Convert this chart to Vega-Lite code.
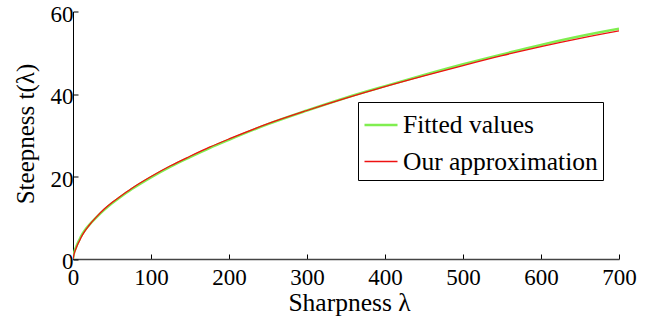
{
  "$schema": "https://vega.github.io/schema/vega-lite/v6.json",
  "autosize": {"type": "none"},
  "width": 546,
  "height": 247.5,
  "padding": {"left": 73, "top": 11.5, "right": 46, "bottom": 64},
  "background": "white",
  "config": {
    "view": {"stroke": null},
    "font": "Liberation Serif",
    "axis": {"grid": false, "labelFont": "Liberation Serif", "titleFont": "Liberation Serif", "labelFontSize": 23, "titleFontSize": 25, "labelColor": "black", "titleColor": "black", "titleFontWeight": "normal", "tickColor": "black", "domainColor": "#444", "domainWidth": 1.6, "tickSize": -5, "tickWidth": 1}
  },
  "data": {"values": [
    {"lambda": 0, "t": 0, "series": "Fitted values"},
    {"lambda": 1, "t": 1.2, "series": "Fitted values"},
    {"lambda": 2, "t": 1.9, "series": "Fitted values"},
    {"lambda": 4, "t": 2.9, "series": "Fitted values"},
    {"lambda": 6, "t": 3.8, "series": "Fitted values"},
    {"lambda": 8, "t": 4.6, "series": "Fitted values"},
    {"lambda": 10, "t": 5.4, "series": "Fitted values"},
    {"lambda": 15, "t": 6.9, "series": "Fitted values"},
    {"lambda": 20, "t": 8.1, "series": "Fitted values"},
    {"lambda": 30, "t": 10.1, "series": "Fitted values"},
    {"lambda": 40, "t": 11.9, "series": "Fitted values"},
    {"lambda": 50, "t": 13.5, "series": "Fitted values"},
    {"lambda": 60, "t": 14.9, "series": "Fitted values"},
    {"lambda": 75, "t": 16.9, "series": "Fitted values"},
    {"lambda": 100, "t": 19.8, "series": "Fitted values"},
    {"lambda": 125, "t": 22.4, "series": "Fitted values"},
    {"lambda": 150, "t": 24.7, "series": "Fitted values"},
    {"lambda": 175, "t": 26.9, "series": "Fitted values"},
    {"lambda": 200, "t": 28.9, "series": "Fitted values"},
    {"lambda": 250, "t": 32.7, "series": "Fitted values"},
    {"lambda": 300, "t": 36.0, "series": "Fitted values"},
    {"lambda": 350, "t": 39.1, "series": "Fitted values"},
    {"lambda": 400, "t": 41.9, "series": "Fitted values"},
    {"lambda": 450, "t": 44.6, "series": "Fitted values"},
    {"lambda": 500, "t": 47.2, "series": "Fitted values"},
    {"lambda": 550, "t": 49.6, "series": "Fitted values"},
    {"lambda": 600, "t": 51.9, "series": "Fitted values"},
    {"lambda": 650, "t": 54.0, "series": "Fitted values"},
    {"lambda": 700, "t": 55.8, "series": "Fitted values"},
    {"lambda": 0, "t": 0, "series": "Our approximation"},
    {"lambda": 1, "t": 0.9, "series": "Our approximation"},
    {"lambda": 2, "t": 1.6, "series": "Our approximation"},
    {"lambda": 4, "t": 2.6, "series": "Our approximation"},
    {"lambda": 6, "t": 3.5, "series": "Our approximation"},
    {"lambda": 8, "t": 4.3, "series": "Our approximation"},
    {"lambda": 10, "t": 5.1, "series": "Our approximation"},
    {"lambda": 15, "t": 6.7, "series": "Our approximation"},
    {"lambda": 20, "t": 8.0, "series": "Our approximation"},
    {"lambda": 30, "t": 10.2, "series": "Our approximation"},
    {"lambda": 40, "t": 12.1, "series": "Our approximation"},
    {"lambda": 50, "t": 13.7, "series": "Our approximation"},
    {"lambda": 60, "t": 15.1, "series": "Our approximation"},
    {"lambda": 75, "t": 17.1, "series": "Our approximation"},
    {"lambda": 100, "t": 20.0, "series": "Our approximation"},
    {"lambda": 125, "t": 22.6, "series": "Our approximation"},
    {"lambda": 150, "t": 24.9, "series": "Our approximation"},
    {"lambda": 175, "t": 27.1, "series": "Our approximation"},
    {"lambda": 200, "t": 29.1, "series": "Our approximation"},
    {"lambda": 250, "t": 32.8, "series": "Our approximation"},
    {"lambda": 300, "t": 36.0, "series": "Our approximation"},
    {"lambda": 350, "t": 39.0, "series": "Our approximation"},
    {"lambda": 400, "t": 41.8, "series": "Our approximation"},
    {"lambda": 450, "t": 44.4, "series": "Our approximation"},
    {"lambda": 500, "t": 46.9, "series": "Our approximation"},
    {"lambda": 550, "t": 49.3, "series": "Our approximation"},
    {"lambda": 600, "t": 51.5, "series": "Our approximation"},
    {"lambda": 650, "t": 53.5, "series": "Our approximation"},
    {"lambda": 700, "t": 55.3, "series": "Our approximation"}
  ]},
  "mark": {"type": "line", "interpolate": "monotone", "clip": true},
  "encoding": {
    "x": {"field": "lambda", "type": "quantitative", "scale": {"domain": [0, 700], "nice": false}, "axis": {"values": [0, 100, 200, 300, 400, 500, 600, 700], "title": "Sharpness λ", "titleFontSize": 25.5, "labelPadding": 12, "labelFlush": false, "titleX": 276, "titleY": 51, "titleBaseline": "alphabetic", "titleAnchor": "middle"}},
    "y": {"field": "t", "type": "quantitative", "scale": {"domain": [0, 60], "nice": false}, "axis": {"values": [0, 20, 40, 60], "title": "Steepness t(λ)", "labelPadding": 5, "labelOffset": 2.5, "labelFlush": false, "titleX": -40, "titleY": 122, "titleAngle": -90, "titleBaseline": "alphabetic", "titleAlign": "center", "domainColor": "black", "domainWidth": 1}},
    "color": {"field": "series", "type": "nominal", "scale": {"domain": ["Fitted values", "Our approximation"], "range": ["#80ee50", "#ee1111"]}, "legend": {"title": null, "orient": "none", "legendX": 285, "legendY": 90.5, "symbolType": "stroke", "symbolSize": 1089, "symbolStrokeWidth": 1.5, "labelFont": "Liberation Serif", "labelFontSize": 25.5, "labelColor": "black", "labelOffset": 4, "strokeColor": "black", "fillColor": "white", "padding": 5, "rowPadding": 5, "labelLimit": 400}},
    "strokeWidth": {"field": "series", "type": "nominal", "scale": {"domain": ["Fitted values", "Our approximation"], "range": [2.5, 1.3]}, "legend": null}
  }
}
